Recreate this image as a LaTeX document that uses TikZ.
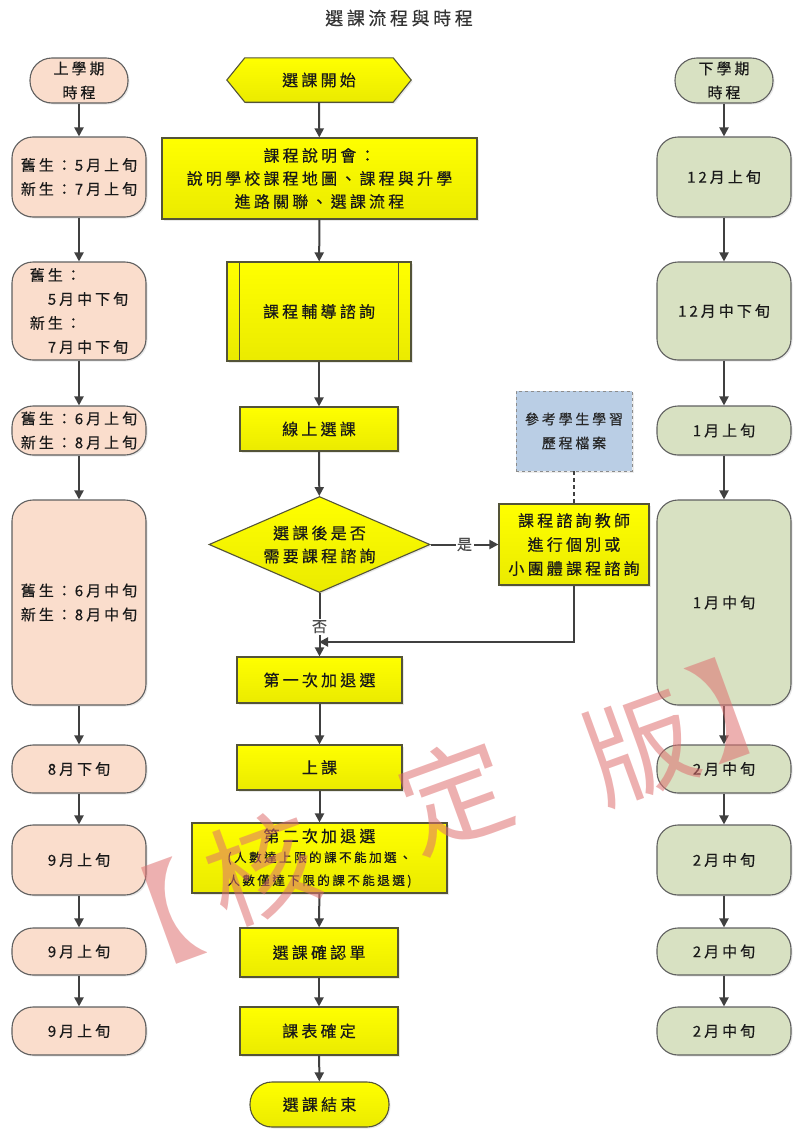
\documentclass[tikz,border=0pt]{standalone}
\usepackage{fontspec}
\usetikzlibrary{calc, shapes, backgrounds, arrows.meta, shadows}
\newfontfamily\cjk[LetterSpace=20, FakeBold=0.4]{Noto Sans CJK TC}
\newfontfamily\cjkplain{Noto Sans CJK TC}
\definecolor{peach}{RGB}{250,221,204}
\definecolor{sage}{RGB}{216,225,194}
\definecolor{boxline}{RGB}{96,96,96}
\definecolor{stepline}{RGB}{84,84,56}
\definecolor{arrowgray}{RGB}{64,64,64}
\definecolor{noteblue}{RGB}{186,206,229}
\definecolor{stampred}{RGB}{222,112,112}

\begin{document}
\begin{tikzpicture}[x=1pt, y=-1pt]
\tikzset{TermStyle/.style = {rectangle, rounded corners=21pt, draw=boxline, line width=1.1pt, inner sep=0pt, align=center, text=black!90, font=\cjk\fontsize{15}{24}\selectfont, minimum width=134pt, drop shadow={opacity=.18, shadow xshift=1.5pt, shadow yshift=-1.5pt}},
  UpperStyle/.style = {TermStyle, fill=peach},
  LowerStyle/.style = {TermStyle, fill=sage},
  StepFill/.style = {draw=stepline, line width=1.1pt, top color=yellow, bottom color=yellow!92!black},
  StepStyle/.style = {StepFill, rectangle, inner sep=0pt, align=center, text=black!90, font=\cjk\fontsize{16}{23}\selectfont, drop shadow={opacity=.18, shadow xshift=1.5pt, shadow yshift=-1.5pt}},
  FlowArrow/.style = {-{Triangle[length=9pt, width=9pt]}, line width=2pt, draw=arrowgray},
  FlowLabel/.style = {fill=white, inner sep=1.5pt, text=black!70, font=\cjk\fontsize{15}{18}\selectfont},
  StampStyle/.style = {text=stampred, text opacity=.55, rotate=20, inner sep=0pt, font=\cjkplain\fontsize{110}{110}\selectfont}
}
\useasboundingbox (0,0) rectangle (795,1135);

    % Title
    \node[font=\cjk\fontsize{18}{20}\selectfont, text=black!80] (title) at (399,18) {選課流程與時程};

    % Upper term column
    \node[UpperStyle, minimum width=98pt, minimum height=45pt, rounded corners=22pt] (l0) at (79,80.5) {上學期\\時程};
    \node[UpperStyle, minimum height=80pt] (l1) at (79,177) {舊生：5月上旬\\新生：7月上旬};
    \node[UpperStyle, minimum height=98pt, align=left] (l2) at (79,311) {舊生：\\\hspace*{18pt}5月中下旬\\新生：\\\hspace*{18pt}7月中下旬};
    \node[UpperStyle, minimum height=49pt] (l3) at (79,430.5) {舊生：6月上旬\\新生：8月上旬};
    \node[UpperStyle, minimum height=205pt] (l4) at (79,602.5) {舊生：6月中旬\\新生：8月中旬};
    \node[UpperStyle, minimum height=48pt] (l5) at (79,769) {8月下旬};
    \node[UpperStyle, minimum height=70pt] (l6) at (79,860) {9月上旬};
    \node[UpperStyle, minimum height=47pt] (l7) at (79,951.5) {9月上旬};
    \node[UpperStyle, minimum height=48pt] (l8) at (79,1031) {9月上旬};

    % Lower term column
    \node[LowerStyle, minimum width=98pt, minimum height=45pt, rounded corners=22pt] (r0) at (724,80.5) {下學期\\時程};
    \node[LowerStyle, minimum height=80pt] (r1) at (724,177) {12月上旬};
    \node[LowerStyle, minimum height=98pt] (r2) at (724,311) {12月中下旬};
    \node[LowerStyle, minimum height=49pt] (r3) at (724,430.5) {1月上旬};
    \node[LowerStyle, minimum height=205pt] (r4) at (724,602.5) {1月中旬};
    \node[LowerStyle, minimum height=48pt] (r5) at (724,769) {2月中旬};
    \node[LowerStyle, minimum height=70pt] (r6) at (724,860) {2月中旬};
    \node[LowerStyle, minimum height=47pt] (r7) at (724,951.5) {2月中旬};
    \node[LowerStyle, minimum height=48pt] (r8) at (724,1031) {2月中旬};

    % Course selection steps
    \node[inner sep=0pt, minimum width=184pt, minimum height=44pt, text=black!90, font=\cjk\fontsize{16}{23}\selectfont] (start) at (319,80) {選課開始};
    \node[StepStyle, minimum width=315pt, minimum height=81pt] (c1) at (319.5,178.5) {課程說明會：\\說明學校課程地圖、課程與升學\\進路關聯、選課流程};
    \node[StepStyle, minimum width=184pt, minimum height=99pt] (c2) at (319,311.5) {課程輔導諮詢};
    \node[StepStyle, minimum width=158pt, minimum height=44pt] (c3) at (319,429) {線上選課};
    \node[StepStyle, shape=diamond, aspect=2.28, minimum width=221pt, minimum height=96pt] (dec) at (319.5,544.5) {選課後是否\\需要課程諮詢};
    \node[StepStyle, minimum width=150pt, minimum height=81pt, font=\cjk\fontsize{16}{24}\selectfont] (side) at (574,544.5) {課程諮詢教師\\進行個別或\\小團體課程諮詢};
    \node[rectangle, draw=black!45, dashed, line width=.8pt, fill=noteblue, inner sep=0pt, align=center, minimum width=116pt, minimum height=80pt, text=black!85, font=\cjk\fontsize{14}{24}\selectfont, drop shadow={opacity=.15, shadow xshift=1.5pt, shadow yshift=-1.5pt}] (ref) at (574,431) {參考學生學習\\歷程檔案};
    \node[StepStyle, minimum width=165pt, minimum height=46pt] (c4) at (319.5,680) {第一次加退選};
    \node[StepStyle, minimum width=165pt, minimum height=45pt] (c5) at (319.5,767.5) {上課};
    \node[StepStyle, minimum width=255pt, minimum height=70pt] (c6) at (319.5,858) {第二次加退選\\[-3pt]{\fontsize{12.5}{20}\selectfont (人數達上限的課不能加選、}\\{\fontsize{12.5}{20}\selectfont 人數僅達下限的課不能退選)}};
    \node[StepStyle, minimum width=158pt, minimum height=49pt] (c7) at (319,952.5) {選課確認單};
    \node[StepStyle, minimum width=158pt, minimum height=48pt] (c8) at (319,1031) {課表確定};
    \node[StepStyle, rounded corners=22pt, minimum width=139pt, minimum height=45pt] (stop) at (319.5,1104.5) {選課結束};

    % Outlines behind the text
    \begin{scope}[on background layer]
    \draw[StepFill, drop shadow={opacity=.18, shadow xshift=1.5pt, shadow yshift=-1.5pt}] (start.west) -- ($(start.north west)+(18,0)$) -- ($(start.north east)+(-18,0)$) -- (start.east)
        -- ($(start.south east)+(-18,0)$) -- ($(start.south west)+(18,0)$) -- cycle;
    \end{scope}
    \draw[draw=stepline, line width=1.1pt] ($(c2.north west)+(13,0)$) -- ($(c2.south west)+(13,0)$);
    \draw[draw=stepline, line width=1.1pt] ($(c2.north east)+(-13,0)$) -- ($(c2.south east)+(-13,0)$);

    % Upper term arrows
    \draw[FlowArrow] (l0) -- (l1);
    \draw[FlowArrow] (l1) -- (l2);
    \draw[FlowArrow] (l2) -- (l3);
    \draw[FlowArrow] (l3) -- (l4);
    \draw[FlowArrow] (l4) -- (l5);
    \draw[FlowArrow] (l5) -- (l6);
    \draw[FlowArrow] (l6) -- (l7);
    \draw[FlowArrow] (l7) -- (l8);

    % Lower term arrows
    \draw[FlowArrow] (r0) -- (r1);
    \draw[FlowArrow] (r1) -- (r2);
    \draw[FlowArrow] (r2) -- (r3);
    \draw[FlowArrow] (r3) -- (r4);
    \draw[FlowArrow] (r4) -- (r5);
    \draw[FlowArrow] (r5) -- (r6);
    \draw[FlowArrow] (r6) -- (r7);
    \draw[FlowArrow] (r7) -- (r8);

    % Step arrows
    \draw[FlowArrow] (start) -- (c1);
    \draw[FlowArrow] (c1) -- (c2);
    \draw[FlowArrow] (c2) -- (c3);
    \draw[FlowArrow] (c3) -- (dec);
    \draw[FlowArrow] (dec) -- node[FlowLabel] (yes) {是} (side);
    \draw[line width=2pt, draw=arrowgray, dash pattern=on 4pt off 3pt] (ref) -- (side);
    \draw[FlowArrow] (dec) -- node[FlowLabel, pos=.53] (no) {否} (c4);
    \coordinate (merge) at (319,642);
    \draw[FlowArrow] (side.south) |- (merge);
    \draw[FlowArrow] (c4) -- (c5);
    \draw[FlowArrow] (c5) -- (c6);
    \draw[FlowArrow] (c6) -- (c7);
    \draw[FlowArrow] (c7) -- (c8);
    \draw[FlowArrow] (c8) -- (stop);

    % Watermark
    \node[StampStyle] (stamp1) at (170,912) {\makebox[50pt][r]{【}};
    \node[StampStyle] (stamp2) at (262,868) {核};
    \node[StampStyle] (stamp3) at (455,795) {定};
    \node[StampStyle] (stamp4) at (640,747) {版};
    \node[StampStyle] (stamp5) at (722,710) {\makebox[50pt][l]{】}};
\end{tikzpicture}
\end{document}
